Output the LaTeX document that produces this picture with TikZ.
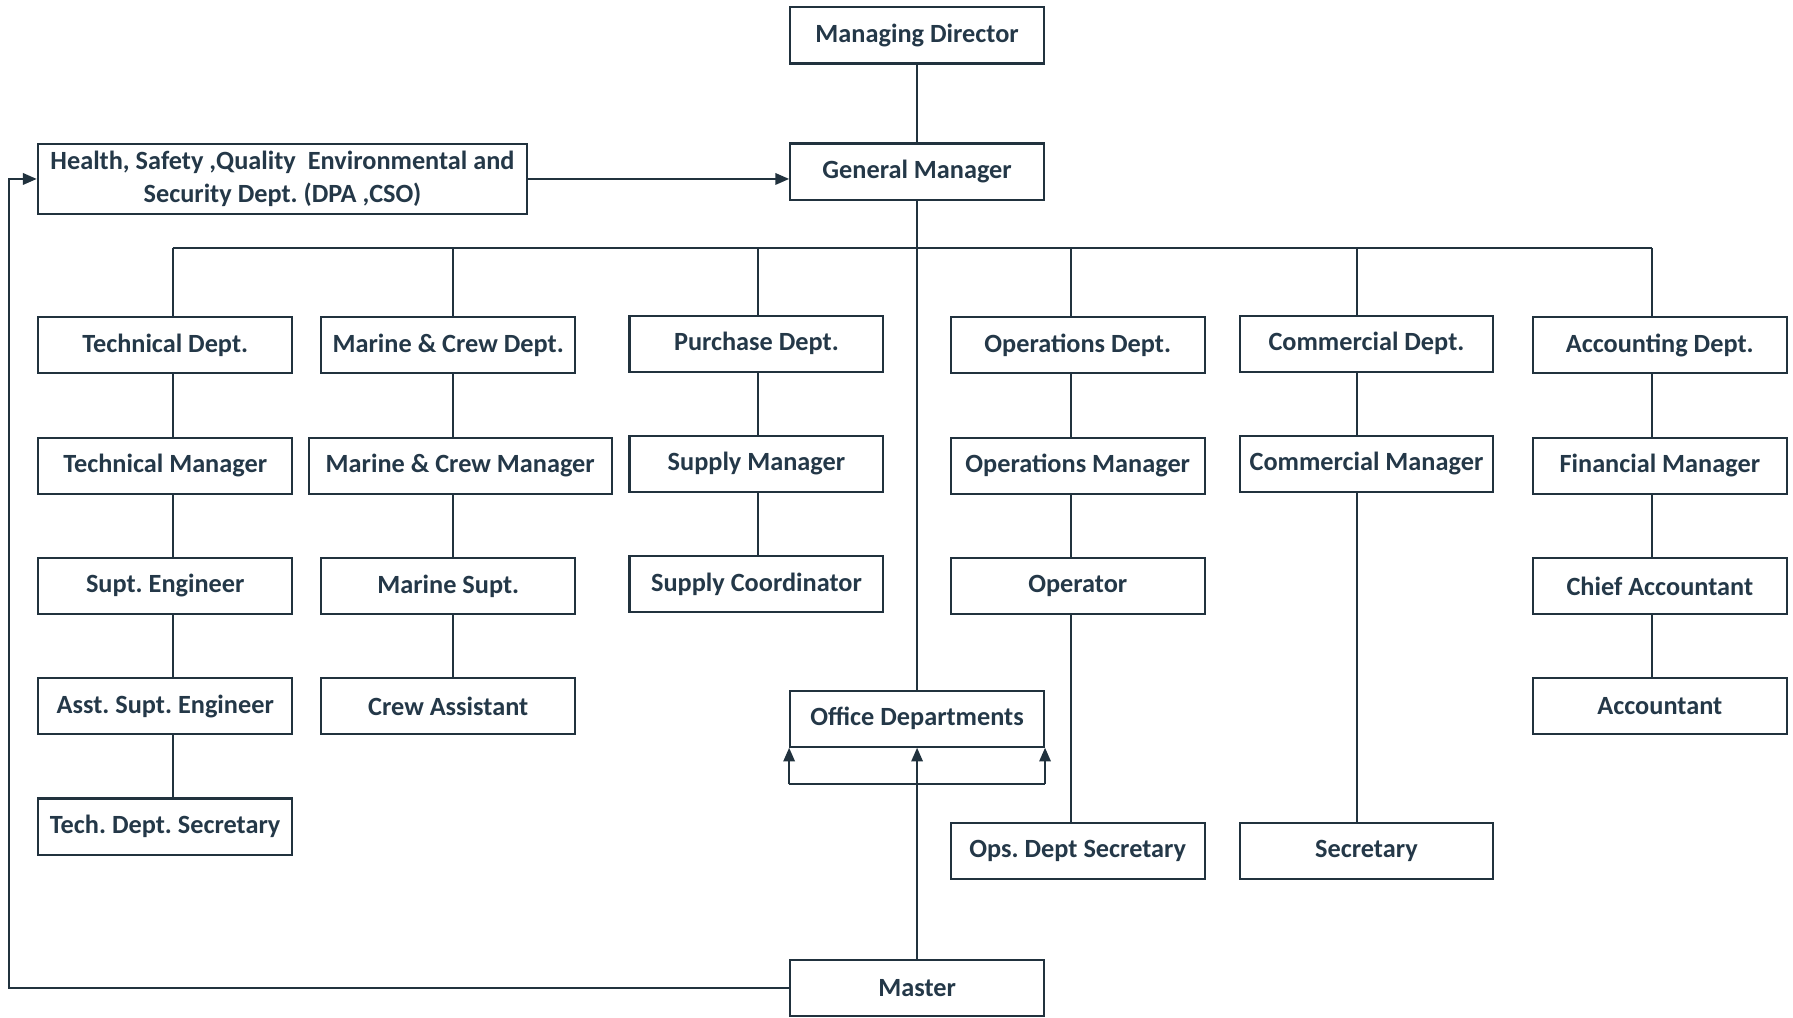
\documentclass[tikz,border=0pt]{standalone}
\usepackage{fontspec}
\setmainfont{Carlito}
\usepackage{xcolor}
\usetikzlibrary{positioning,arrows.meta}
\frenchspacing

\definecolor{linec}{RGB}{33,50,62}
\definecolor{txtc}{RGB}{36,56,72}

\tikzset{
    box/.style={draw=linec, line width=0.9pt, text=txtc, inner sep=2pt,
        minimum width=111pt, minimum height=24.5pt,
        font=\fontsize{11.5}{14.5}\selectfont\bfseries},
    link/.style={draw=linec, line width=0.85pt},
    arr/.style={link, -{Triangle[width=5pt,length=6pt]}},
}

\begin{document}
\begin{tikzpicture}[x=0.5pt, y=-0.5pt, node distance=27.2pt]
        \useasboundingbox (0,0) rectangle (1568,890);

        % top
        \node[box] (md) at (802,31) {Managing Director};
        \node[box] (gm) at (802,150) {General Manager};
        \node[box, minimum width=214pt, minimum height=30.5pt, align=center, inner sep=1pt] (hsqe) at (247,156.5)
            {Health, Safety ,Quality\ \ Environmental and\\Security Dept. (DPA ,CSO)};

        % departments
        \node[box] (tdept) at (144.5,302) {Technical Dept.};
        \node[box] (mdept) at (392,302) {Marine \& Crew Dept.};
        \node[box] (pdept) at (661.5,300.5) {Purchase Dept.};
        \node[box] (odept) at (942.5,302) {Operations Dept.};
        \node[box] (cdept) at (1195,300.5) {Commercial Dept.};
        \node[box] (adept) at (1451.5,302) {Accounting Dept.};

        % technical
        \node[box, below=of tdept] (tman) {Technical Manager};
        \node[box, below=of tman] (seng) {Supt. Engineer};
        \node[box, below=of seng] (aseng) {Asst. Supt. Engineer};
        \node[box, below=of aseng] (tsec) {Tech. Dept. Secretary};

        % marine
        \node[box, minimum width=132.5pt, below=of mdept, xshift=5.25pt] (mman) {Marine \& Crew Manager};
        \node[box, below=of mman, xshift=-5.25pt] (msupt) {Marine Supt.};
        \node[box, below=of msupt] (crew) {Crew Assistant};

        % purchase
        \node[box, below=of pdept] (sman) {Supply Manager};
        \node[box, below=of sman] (scoord) {Supply Coordinator};

        % operations
        \node[box, below=of odept] (oman) {Operations Manager};
        \node[box, below=of oman] (oper) {Operator};
        \node[box] (osec) at (942.5,744) {Ops. Dept Secretary};

        % commercial
        \node[box, below=of cdept] (cman) {Commercial Manager};
        \node[box] (csec) at (1195,744) {Secretary};

        % accounting
        \node[box, below=of adept] (fman) {Financial Manager};
        \node[box, below=of fman] (chief) {Chief Accountant};
        \node[box, below=of chief] (acc) {Accountant};

        % office and master
        \node[box] (office) at (802,628.5) {Office Departments};
        \node[box] (master) at (802,864) {Master};

        \coordinate (bT) at (151,217);
        \coordinate (bM) at (396,217);
        \coordinate (bP) at (663,217);
        \coordinate (bO) at (937,217);
        \coordinate (bC) at (1187,217);
        \coordinate (bA) at (1445,217);
        \coordinate (lft) at (8,0);
        \coordinate (brk) at (0,686);

        \draw[link] (md) -- (gm);
        \draw[link] (gm) -- (office);
        \draw[arr] (hsqe) -- (hsqe -| gm.west);
        \draw[link] (bT) -- (bA);

        \foreach \c/\d in {bT/tdept, bM/mdept, bP/pdept, bO/odept, bC/cdept, bA/adept}
            \draw[link] (\c) -- (\c |- \d.north);

        \foreach \c/\a/\b in {bT/tdept/tman, bT/tman/seng, bT/seng/aseng, bT/aseng/tsec,
                              bM/mdept/mman, bM/mman/msupt, bM/msupt/crew,
                              bP/pdept/sman, bP/sman/scoord,
                              bO/odept/oman, bO/oman/oper, bO/oper/osec,
                              bC/cdept/cman, bC/cman/csec,
                              bA/adept/fman, bA/fman/chief, bA/chief/acc}
            \draw[link] (\c |- \a.south) -- (\c |- \b.north);

        % master links
        \draw[arr] (master) -- (office);
        \draw[link] (office.south west |- brk) -- (office.south east |- brk);
        \draw[arr] (office.south west |- brk) -- (office.south west);
        \draw[arr] (office.south east |- brk) -- (office.south east);
        \draw[arr] (master.west) -- (lft |- master) -- (lft |- hsqe) -- (hsqe.west);
\end{tikzpicture}
\end{document}
